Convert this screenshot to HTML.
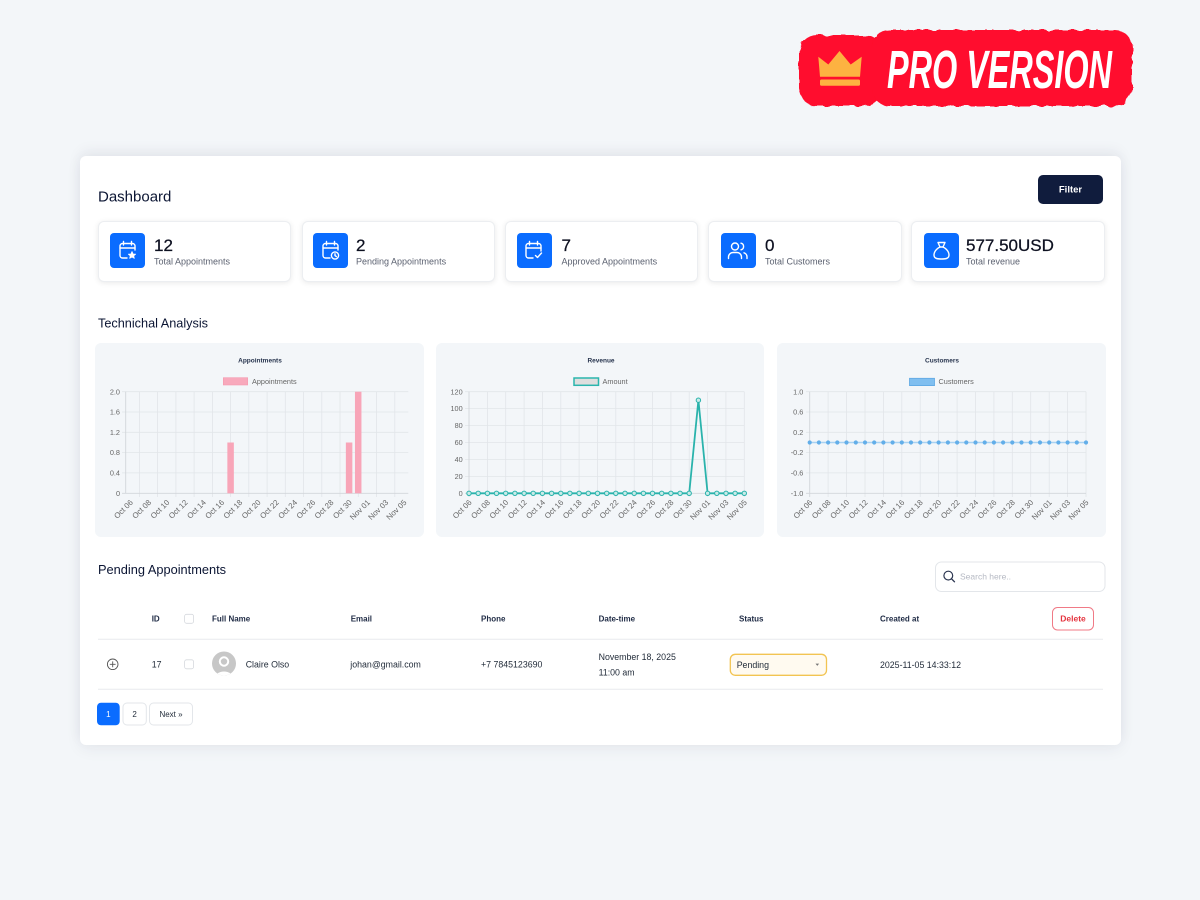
<!DOCTYPE html>
<html><head><meta charset="utf-8"><style>
html,body{margin:0;padding:0}
body{width:1200px;height:900px;background:#f3f6f9;position:relative;overflow:hidden;font-family:"Liberation Sans",Arial,sans-serif}
.abs{position:absolute}
.card{left:80px;top:156px;width:1041px;height:589px;background:#fff;border-radius:6px;box-shadow:0 -5px 14px rgba(30,40,60,0.06),0 4px 16px rgba(30,40,60,0.06)}
.stat{top:221px;width:191px;height:59px;background:#fff;border:1px solid #eceef1;border-radius:6px;box-shadow:0 1px 6px rgba(0,0,0,0.09)}
svg{position:absolute;left:0;top:0}
</style></head><body>
<div class="abs card"></div>
<div class="abs stat" style="left:98px"></div>
<div class="abs stat" style="left:302px"></div>
<div class="abs stat" style="left:505px"></div>
<div class="abs stat" style="left:708px;width:192px"></div>
<div class="abs stat" style="left:911px;width:192px"></div>

<svg width="1200" height="900" viewBox="0 0 1200 900" xmlns="http://www.w3.org/2000/svg" font-family="Liberation Sans, Arial, sans-serif">
<defs>
<filter id="wob" x="-10%" y="-30%" width="120%" height="160%">
<feTurbulence type="fractalNoise" baseFrequency="0.13" numOctaves="1" seed="4"/>
<feDisplacementMap in="SourceGraphic" scale="6"/>
</filter>
<clipPath id="av"><circle cx="224" cy="663.5" r="12"/></clipPath>
</defs>

<!-- PRO badge -->
<g fill="#ff0a2d" filter="url(#wob)">
<rect x="799" y="35" width="84" height="71" rx="18"/>
<rect x="872" y="30" width="260" height="76" rx="17"/>
</g>
<g fill="#fdb241">
<path d="M818.3,56.7 L828.3,64.5 L839.5,51 L850.7,64.5 L861.7,56.7 L860,76.7 L820,76.7 Z"/>
<rect x="820" y="79.5" width="40" height="6.3" rx="1.5"/>
</g>
<text x="887" y="88" font-size="54" font-weight="bold" font-style="italic" fill="#fff" textLength="225" lengthAdjust="spacingAndGlyphs">PRO VERSION</text>

<!-- header -->
<text x="98" y="201.5" font-size="15" fill="#0b1533">Dashboard</text>
<rect x="1038" y="175" width="65" height="29" rx="5" fill="#101c3d"/>
<text x="1070.5" y="192.5" font-size="9.5" font-weight="bold" fill="#fff" text-anchor="middle">Filter</text>

<!-- stat icons -->
<g fill="#0a6cff">
<rect x="110" y="233" width="35" height="35" rx="4"/>
<rect x="313" y="233" width="35" height="35" rx="4"/>
<rect x="517" y="233" width="35" height="35" rx="4"/>
<rect x="721" y="233" width="35" height="35" rx="4"/>
<rect x="924" y="233" width="35" height="35" rx="4"/>
</g>
<g fill="none" stroke="#fff" stroke-width="1.4" stroke-linecap="round" stroke-linejoin="round">
<path d="M127,258 H122.5 A2.5,2.5 0 0 1 120,255.5 V246 A2.5,2.5 0 0 1 122.5,243.5 H132.5 A2.5,2.5 0 0 1 135,246 V250"/>
<path d="M120,248 H135 M123.5,241.5 V245 M131.5,241.5 V245"/>
<path d="M132,251.5 L133.1,254 L135.6,254.2 L133.7,255.8 L134.3,258.3 L132,257 L129.7,258.3 L130.3,255.8 L128.4,254.2 L130.9,254 Z" fill="#fff" stroke-width="0.8"/>
<path d="M330,258 H325.5 A2.5,2.5 0 0 1 323,255.5 V246 A2.5,2.5 0 0 1 325.5,243.5 H335.5 A2.5,2.5 0 0 1 338,246 V250"/>
<path d="M323,248 H338 M326.5,241.5 V245 M334.5,241.5 V245"/>
<circle cx="335" cy="255.5" r="3.6"/><path d="M335,253.8 V255.6 L336.3,256.5"/>
<path d="M533,258 H528.5 A2.5,2.5 0 0 1 526,255.5 V246 A2.5,2.5 0 0 1 528.5,243.5 H538.5 A2.5,2.5 0 0 1 541,246 V251"/>
<path d="M526,248 H541 M529.5,241.5 V245 M537.5,241.5 V245"/>
<path d="M535.5,255.5 L537.5,257.5 L541.5,253"/>
<circle cx="735" cy="246.5" r="3.5"/>
<path d="M728.5,258.5 V257 A4.5,4.5 0 0 1 733,252.5 H737 A4.5,4.5 0 0 1 741.5,257 V258.5"/>
<path d="M741,243.2 A3.4,3.4 0 0 1 741,249.8 M744,252.8 A4.2,4.2 0 0 1 747,257 V258.5"/>
<path d="M938,242.5 H945 L943,247 C948,249.5 950,254 948.5,257 C947.5,258.7 945.5,259 941.5,259 C937.5,259 935.5,258.7 934.5,257 C933,254 935,249.5 940,247 Z"/>
<path d="M940,247 H943"/>
</g>

<!-- stat numbers -->
<g font-size="17" fill="#0d1020" stroke="#0d1020" stroke-width="0.25">
<text x="154" y="251">12</text>
<text x="356" y="251">2</text>
<text x="561.5" y="251">7</text>
<text x="765" y="251">0</text>
<text x="966" y="251">577.50USD</text>
</g>
<g font-size="9" fill="#5b6170">
<text x="154" y="264.5">Total Appointments</text>
<text x="356" y="264.5">Pending Appointments</text>
<text x="561.5" y="264.5">Approved Appointments</text>
<text x="765" y="264.5">Total Customers</text>
<text x="966" y="264.5">Total revenue</text>
</g>

<text x="98" y="327.5" font-size="12.7" fill="#0b1533">Technichal Analysis</text>

<!-- chart panels -->
<g fill="#f3f6f9">
<rect x="95" y="343" width="329" height="194" rx="6"/>
<rect x="436" y="343" width="328" height="194" rx="6"/>
<rect x="777" y="343" width="329" height="194" rx="6"/>
</g>

<!-- ===== Chart 1 ===== -->
<text x="260" y="362.3" font-size="6.5" font-weight="bold" fill="#26334d" text-anchor="middle">Appointments</text>
<rect x="223.3" y="377.7" width="24.4" height="7.3" fill="#f8a9bc" stroke="#f59ab0" stroke-width="0.6"/>
<text x="252" y="384" font-size="7.3" fill="#666">Appointments</text>
<g stroke="#e2e5e9" stroke-width="0.8">
<path d="M122,391.7H408.3M122,412H408.3M122,432.3H408.3M122,452.6H408.3M122,472.9H408.3"/>
<path d="M139.4,391.7V497M157.6,391.7V497M175.9,391.7V497M194.1,391.7V497M212.4,391.7V497M230.6,391.7V497M248.8,391.7V497M267.1,391.7V497M285.3,391.7V497M303.6,391.7V497M321.8,391.7V497M340,391.7V497M358.3,391.7V497M376.5,391.7V497M394.8,391.7V497"/>
</g>
<path d="M125.7,391.7V493.3H408.3M122,493.3H125.7" stroke="#d2d5da" stroke-width="0.9" fill="none"/>
<g fill="#f8a5b8">
<rect x="227.35" y="442.5" width="6.5" height="50.8"/>
<rect x="345.85" y="442.5" width="6.5" height="50.8"/>
<rect x="354.95" y="391.7" width="6.5" height="101.6"/>
</g>
<g font-size="7.3" fill="#666" text-anchor="end">
<text x="120" y="394.3">2.0</text><text x="120" y="414.6">1.6</text><text x="120" y="434.9">1.2</text><text x="120" y="455.2">0.8</text><text x="120" y="475.5">0.4</text><text x="120" y="495.9">0</text>
</g>
<g font-size="7.8" fill="#666" text-anchor="end">
<text transform="translate(131.5,501) rotate(-45)" dy="0.35em">Oct 06</text>
<text transform="translate(149.7,501) rotate(-45)" dy="0.35em">Oct 08</text>
<text transform="translate(168,501) rotate(-45)" dy="0.35em">Oct 10</text>
<text transform="translate(186.2,501) rotate(-45)" dy="0.35em">Oct 12</text>
<text transform="translate(204.5,501) rotate(-45)" dy="0.35em">Oct 14</text>
<text transform="translate(222.7,501) rotate(-45)" dy="0.35em">Oct 16</text>
<text transform="translate(240.9,501) rotate(-45)" dy="0.35em">Oct 18</text>
<text transform="translate(259.2,501) rotate(-45)" dy="0.35em">Oct 20</text>
<text transform="translate(277.4,501) rotate(-45)" dy="0.35em">Oct 22</text>
<text transform="translate(295.7,501) rotate(-45)" dy="0.35em">Oct 24</text>
<text transform="translate(313.9,501) rotate(-45)" dy="0.35em">Oct 26</text>
<text transform="translate(332.1,501) rotate(-45)" dy="0.35em">Oct 28</text>
<text transform="translate(350.4,501) rotate(-45)" dy="0.35em">Oct 30</text>
<text transform="translate(368.6,501) rotate(-45)" dy="0.35em">Nov 01</text>
<text transform="translate(386.9,501) rotate(-45)" dy="0.35em">Nov 03</text>
<text transform="translate(405.1,501) rotate(-45)" dy="0.35em">Nov 05</text>
</g>

<!-- ===== Chart 2 ===== -->
<text x="601" y="362.3" font-size="6.5" font-weight="bold" fill="#26334d" text-anchor="middle">Revenue</text>
<rect x="574" y="378" width="24.5" height="7.3" fill="#dedede" stroke="#2bb5ae" stroke-width="1.5"/>
<text x="602.5" y="384" font-size="7.3" fill="#666">Amount</text>
<g stroke="#e2e5e9" stroke-width="0.8">
<path d="M465,391.7H744.3M465,408.6H744.3M465,425.6H744.3M465,442.5H744.3M465,459.4H744.3M465,476.4H744.3"/>
<path d="M487.4,391.7V497M505.7,391.7V497M524.1,391.7V497M542.4,391.7V497M560.8,391.7V497M579.1,391.7V497M597.5,391.7V497M615.8,391.7V497M634.2,391.7V497M652.5,391.7V497M670.9,391.7V497M689.2,391.7V497M707.6,391.7V497M725.9,391.7V497M744.3,391.7V497"/>
</g>
<path d="M469,391.7V497M465,493.3H744.3" stroke="#d2d5da" stroke-width="0.9" fill="none"/>
<g font-size="7.3" fill="#666" text-anchor="end">
<text x="462.7" y="394.3">120</text><text x="462.7" y="411.2">100</text><text x="462.7" y="428.2">80</text><text x="462.7" y="445.1">60</text><text x="462.7" y="462">40</text><text x="462.7" y="479">20</text><text x="462.7" y="495.9">0</text>
</g>
<polyline points="469,493.3 689.2,493.3 698.4,400.2 707.6,493.3 744.3,493.3" fill="none" stroke="#2ab3ac" stroke-width="1.8" stroke-linejoin="round"/>
<g fill="#c9ebe8" stroke="#2ab3ac" stroke-width="1">
<circle cx="469" cy="493.3" r="2.2"/><circle cx="478.2" cy="493.3" r="2.2"/><circle cx="487.4" cy="493.3" r="2.2"/><circle cx="496.5" cy="493.3" r="2.2"/><circle cx="505.7" cy="493.3" r="2.2"/><circle cx="514.9" cy="493.3" r="2.2"/><circle cx="524.1" cy="493.3" r="2.2"/><circle cx="533.2" cy="493.3" r="2.2"/><circle cx="542.4" cy="493.3" r="2.2"/><circle cx="551.6" cy="493.3" r="2.2"/><circle cx="560.8" cy="493.3" r="2.2"/><circle cx="569.9" cy="493.3" r="2.2"/><circle cx="579.1" cy="493.3" r="2.2"/><circle cx="588.3" cy="493.3" r="2.2"/><circle cx="597.5" cy="493.3" r="2.2"/><circle cx="606.7" cy="493.3" r="2.2"/><circle cx="615.8" cy="493.3" r="2.2"/><circle cx="625" cy="493.3" r="2.2"/><circle cx="634.2" cy="493.3" r="2.2"/><circle cx="643.4" cy="493.3" r="2.2"/><circle cx="652.5" cy="493.3" r="2.2"/><circle cx="661.7" cy="493.3" r="2.2"/><circle cx="670.9" cy="493.3" r="2.2"/><circle cx="680.1" cy="493.3" r="2.2"/><circle cx="689.2" cy="493.3" r="2.2"/><circle cx="698.4" cy="400.2" r="2.2"/><circle cx="707.6" cy="493.3" r="2.2"/><circle cx="716.8" cy="493.3" r="2.2"/><circle cx="726" cy="493.3" r="2.2"/><circle cx="735.1" cy="493.3" r="2.2"/><circle cx="744.3" cy="493.3" r="2.2"/>
</g>
<g font-size="7.8" fill="#666" text-anchor="end">
<text transform="translate(470.2,501) rotate(-45)" dy="0.35em">Oct 06</text>
<text transform="translate(488.6,501) rotate(-45)" dy="0.35em">Oct 08</text>
<text transform="translate(506.9,501) rotate(-45)" dy="0.35em">Oct 10</text>
<text transform="translate(525.3,501) rotate(-45)" dy="0.35em">Oct 12</text>
<text transform="translate(543.6,501) rotate(-45)" dy="0.35em">Oct 14</text>
<text transform="translate(562,501) rotate(-45)" dy="0.35em">Oct 16</text>
<text transform="translate(580.3,501) rotate(-45)" dy="0.35em">Oct 18</text>
<text transform="translate(598.7,501) rotate(-45)" dy="0.35em">Oct 20</text>
<text transform="translate(617,501) rotate(-45)" dy="0.35em">Oct 22</text>
<text transform="translate(635.4,501) rotate(-45)" dy="0.35em">Oct 24</text>
<text transform="translate(653.7,501) rotate(-45)" dy="0.35em">Oct 26</text>
<text transform="translate(672.1,501) rotate(-45)" dy="0.35em">Oct 28</text>
<text transform="translate(690.4,501) rotate(-45)" dy="0.35em">Oct 30</text>
<text transform="translate(708.8,501) rotate(-45)" dy="0.35em">Nov 01</text>
<text transform="translate(727.1,501) rotate(-45)" dy="0.35em">Nov 03</text>
<text transform="translate(745.5,501) rotate(-45)" dy="0.35em">Nov 05</text>
</g>

<!-- ===== Chart 3 ===== -->
<text x="942" y="362.3" font-size="6.5" font-weight="bold" fill="#26334d" text-anchor="middle">Customers</text>
<rect x="909.5" y="378.3" width="25" height="7.3" fill="#80bff0" stroke="#5ea8e3" stroke-width="0.8"/>
<text x="938.5" y="384" font-size="7.3" fill="#666">Customers</text>
<g stroke="#e2e5e9" stroke-width="0.8">
<path d="M806,391.7H1086M806,412H1086M806,432.3H1086M806,452.6H1086M806,472.9H1086"/>
<path d="M828.1,391.7V497M846.5,391.7V497M865,391.7V497M883.4,391.7V497M901.8,391.7V497M920.2,391.7V497M938.6,391.7V497M957.1,391.7V497M975.5,391.7V497M993.9,391.7V497M1012.3,391.7V497M1030.7,391.7V497M1049.2,391.7V497M1067.6,391.7V497M1086,391.7V497"/>
</g>
<path d="M809.7,391.7V497M806,493.3H1086" stroke="#d2d5da" stroke-width="0.9" fill="none"/>
<g font-size="7.3" fill="#666" text-anchor="end">
<text x="803.3" y="394.3">1.0</text><text x="803.3" y="414.6">0.6</text><text x="803.3" y="434.9">0.2</text><text x="803.3" y="455.2">-0.2</text><text x="803.3" y="475.5">-0.6</text><text x="803.3" y="495.9">-1.0</text>
</g>
<path d="M809.7,442.5H1086" stroke="#a9d2f2" stroke-width="1.5"/>
<g fill="#62aee9">
<circle cx="809.7" cy="442.5" r="2.1"/><circle cx="818.9" cy="442.5" r="2.1"/><circle cx="828.1" cy="442.5" r="2.1"/><circle cx="837.3" cy="442.5" r="2.1"/><circle cx="846.5" cy="442.5" r="2.1"/><circle cx="855.8" cy="442.5" r="2.1"/><circle cx="865" cy="442.5" r="2.1"/><circle cx="874.2" cy="442.5" r="2.1"/><circle cx="883.4" cy="442.5" r="2.1"/><circle cx="892.6" cy="442.5" r="2.1"/><circle cx="901.8" cy="442.5" r="2.1"/><circle cx="911" cy="442.5" r="2.1"/><circle cx="920.2" cy="442.5" r="2.1"/><circle cx="929.4" cy="442.5" r="2.1"/><circle cx="938.6" cy="442.5" r="2.1"/><circle cx="947.9" cy="442.5" r="2.1"/><circle cx="957.1" cy="442.5" r="2.1"/><circle cx="966.3" cy="442.5" r="2.1"/><circle cx="975.5" cy="442.5" r="2.1"/><circle cx="984.7" cy="442.5" r="2.1"/><circle cx="993.9" cy="442.5" r="2.1"/><circle cx="1003.1" cy="442.5" r="2.1"/><circle cx="1012.3" cy="442.5" r="2.1"/><circle cx="1021.5" cy="442.5" r="2.1"/><circle cx="1030.7" cy="442.5" r="2.1"/><circle cx="1040" cy="442.5" r="2.1"/><circle cx="1049.2" cy="442.5" r="2.1"/><circle cx="1058.4" cy="442.5" r="2.1"/><circle cx="1067.6" cy="442.5" r="2.1"/><circle cx="1076.8" cy="442.5" r="2.1"/><circle cx="1086" cy="442.5" r="2.1"/>
</g>
<g font-size="7.8" fill="#666" text-anchor="end">
<text transform="translate(810.9,501) rotate(-45)" dy="0.35em">Oct 06</text>
<text transform="translate(829.3,501) rotate(-45)" dy="0.35em">Oct 08</text>
<text transform="translate(847.7,501) rotate(-45)" dy="0.35em">Oct 10</text>
<text transform="translate(866.2,501) rotate(-45)" dy="0.35em">Oct 12</text>
<text transform="translate(884.6,501) rotate(-45)" dy="0.35em">Oct 14</text>
<text transform="translate(903,501) rotate(-45)" dy="0.35em">Oct 16</text>
<text transform="translate(921.4,501) rotate(-45)" dy="0.35em">Oct 18</text>
<text transform="translate(939.8,501) rotate(-45)" dy="0.35em">Oct 20</text>
<text transform="translate(958.3,501) rotate(-45)" dy="0.35em">Oct 22</text>
<text transform="translate(976.7,501) rotate(-45)" dy="0.35em">Oct 24</text>
<text transform="translate(995.1,501) rotate(-45)" dy="0.35em">Oct 26</text>
<text transform="translate(1013.5,501) rotate(-45)" dy="0.35em">Oct 28</text>
<text transform="translate(1031.9,501) rotate(-45)" dy="0.35em">Oct 30</text>
<text transform="translate(1050.4,501) rotate(-45)" dy="0.35em">Nov 01</text>
<text transform="translate(1068.8,501) rotate(-45)" dy="0.35em">Nov 03</text>
<text transform="translate(1087.2,501) rotate(-45)" dy="0.35em">Nov 05</text>
</g>

<!-- ===== Pending appointments ===== -->
<text x="98" y="574" font-size="12.8" fill="#0b1533">Pending Appointments</text>
<rect x="935.5" y="562" width="169.5" height="29.5" rx="6" fill="#fff" stroke="#e3e6ea" stroke-width="1"/>
<circle cx="948.3" cy="575.6" r="4.4" fill="none" stroke="#2b3550" stroke-width="1.2"/>
<path d="M951.5,578.8 L954.5,581.8" stroke="#2b3550" stroke-width="1.3" stroke-linecap="round"/>
<text x="960" y="579.6" font-size="8.5" fill="#b5b9c3">Search here..</text>

<g font-size="8" font-weight="bold" fill="#1e2a44">
<text x="151.7" y="621.7">ID</text>
<text x="212" y="621.7">Full Name</text>
<text x="350.7" y="621.7">Email</text>
<text x="481" y="621.7">Phone</text>
<text x="598.6" y="621.7">Date-time</text>
<text x="739" y="621.7">Status</text>
<text x="880" y="621.7">Created at</text>
</g>
<rect x="184.6" y="614.3" width="9" height="9" rx="2" fill="#fff" stroke="#d6d9de" stroke-width="0.8"/>
<rect x="1052.5" y="607.5" width="41" height="22.5" rx="5" fill="#fff" stroke="#f07a86" stroke-width="1"/>
<text x="1073" y="621.7" font-size="8.5" font-weight="bold" fill="#e5343f" text-anchor="middle">Delete</text>
<path d="M98,639.3H1103" stroke="#e8eaed" stroke-width="1"/>

<!-- row -->
<circle cx="112.7" cy="664.3" r="5.3" fill="none" stroke="#555" stroke-width="0.9"/>
<path d="M109.8,664.3H115.6M112.7,661.4V667.2" stroke="#555" stroke-width="0.9"/>
<g font-size="8.8" fill="#1f2937">
<text x="151.7" y="667.5">17</text>
<text x="245.7" y="667.5">Claire Olso</text>
<text x="350.3" y="667.5">johan@gmail.com</text>
<text x="481" y="667.5">+7 7845123690</text>
<text x="598.6" y="660">November 18, 2025</text>
<text x="598.6" y="675.3">11:00 am</text>
<text x="880" y="668">2025-11-05 14:33:12</text>
</g>
<rect x="184.6" y="659.8" width="9" height="9" rx="2" fill="#fff" stroke="#d6d9de" stroke-width="0.8"/>
<circle cx="224" cy="663.5" r="12" fill="#c7c7c7"/>
<g clip-path="url(#av)" fill="#fff">
<circle cx="224" cy="661.5" r="5.2"/>
<ellipse cx="224" cy="678" rx="9" ry="6.5"/>
</g>
<circle cx="224" cy="661.5" r="3.2" fill="#c7c7c7"/>
<rect x="730.3" y="654.3" width="96.2" height="21" rx="5" fill="#fffaf0" stroke="#f2c452" stroke-width="1.3"/>
<text x="736.7" y="668" font-size="8.8" fill="#1f2937">Pending</text>
<path d="M815.5,663.6H819.1L817.3,665.9Z" fill="#777"/>
<path d="M98,689.3H1103" stroke="#e8eaed" stroke-width="1"/>

<!-- pagination -->
<rect x="97" y="702.7" width="22.7" height="22.6" rx="4" fill="#0a6cff"/>
<text x="108.4" y="717" font-size="8" fill="#fff" text-anchor="middle">1</text>
<rect x="123" y="703" width="23.3" height="22" rx="4" fill="#fff" stroke="#e3e6ea" stroke-width="1"/>
<text x="134.6" y="717" font-size="8" fill="#1f2937" text-anchor="middle">2</text>
<rect x="149.5" y="703" width="43" height="22" rx="4" fill="#fff" stroke="#e3e6ea" stroke-width="1"/>
<text x="171" y="717" font-size="8" fill="#1f2937" text-anchor="middle">Next »</text>
</svg>
</body></html>
